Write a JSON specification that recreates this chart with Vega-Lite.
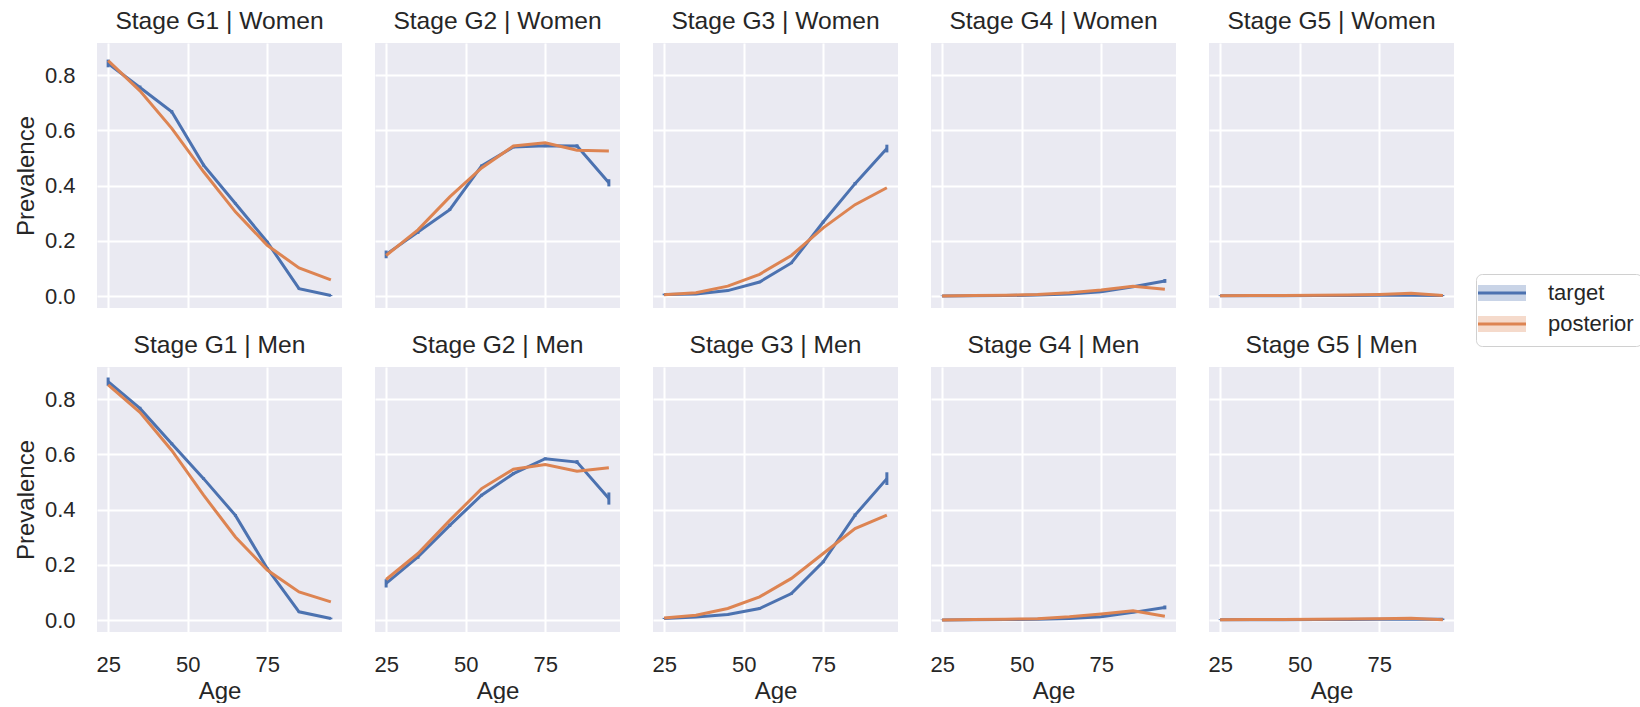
{
  "$schema": "https://vega.github.io/schema/vega-lite/v6.json",
  "padding": {"left": 14, "top": 9, "right": 0, "bottom": 0},
  "background": "white",
  "data": {"values": [
    {"stage":"G1","sex":"Women","age":25,"target":0.842,"posterior":0.852,"lo":0.828,"hi":0.856},
    {"stage":"G1","sex":"Women","age":35,"target":0.755,"posterior":0.743,"lo":0.748,"hi":0.762},
    {"stage":"G1","sex":"Women","age":45,"target":0.667,"posterior":0.607,"lo":0.661,"hi":0.673},
    {"stage":"G1","sex":"Women","age":55,"target":0.474,"posterior":0.450,"lo":0.469,"hi":0.479},
    {"stage":"G1","sex":"Women","age":65,"target":0.335,"posterior":0.305,"lo":0.331,"hi":0.339},
    {"stage":"G1","sex":"Women","age":75,"target":0.196,"posterior":0.184,"lo":0.192,"hi":0.200},
    {"stage":"G1","sex":"Women","age":85,"target":0.027,"posterior":0.102,"lo":0.024,"hi":0.030},
    {"stage":"G1","sex":"Women","age":95,"target":0.002,"posterior":0.059,"lo":0.000,"hi":0.004},
    {"stage":"G2","sex":"Women","age":25,"target":0.151,"posterior":0.147,"lo":0.137,"hi":0.165},
    {"stage":"G2","sex":"Women","age":35,"target":0.232,"posterior":0.240,"lo":0.225,"hi":0.239},
    {"stage":"G2","sex":"Women","age":45,"target":0.313,"posterior":0.359,"lo":0.308,"hi":0.318},
    {"stage":"G2","sex":"Women","age":55,"target":0.471,"posterior":0.464,"lo":0.466,"hi":0.476},
    {"stage":"G2","sex":"Women","age":65,"target":0.540,"posterior":0.543,"lo":0.535,"hi":0.545},
    {"stage":"G2","sex":"Women","age":75,"target":0.544,"posterior":0.555,"lo":0.539,"hi":0.549},
    {"stage":"G2","sex":"Women","age":85,"target":0.543,"posterior":0.528,"lo":0.537,"hi":0.549},
    {"stage":"G2","sex":"Women","age":95,"target":0.410,"posterior":0.525,"lo":0.397,"hi":0.423},
    {"stage":"G3","sex":"Women","age":25,"target":0.006,"posterior":0.005,"lo":0.003,"hi":0.009},
    {"stage":"G3","sex":"Women","age":35,"target":0.008,"posterior":0.012,"lo":0.005,"hi":0.011},
    {"stage":"G3","sex":"Women","age":45,"target":0.020,"posterior":0.036,"lo":0.017,"hi":0.023},
    {"stage":"G3","sex":"Women","age":55,"target":0.051,"posterior":0.079,"lo":0.047,"hi":0.055},
    {"stage":"G3","sex":"Women","age":65,"target":0.120,"posterior":0.147,"lo":0.116,"hi":0.124},
    {"stage":"G3","sex":"Women","age":75,"target":0.268,"posterior":0.247,"lo":0.263,"hi":0.273},
    {"stage":"G3","sex":"Women","age":85,"target":0.407,"posterior":0.331,"lo":0.401,"hi":0.413},
    {"stage":"G3","sex":"Women","age":95,"target":0.534,"posterior":0.392,"lo":0.520,"hi":0.548},
    {"stage":"G4","sex":"Women","age":25,"target":0.000,"posterior":0.000,"lo":0.000,"hi":0.002},
    {"stage":"G4","sex":"Women","age":35,"target":0.001,"posterior":0.002,"lo":0.000,"hi":0.002},
    {"stage":"G4","sex":"Women","age":45,"target":0.002,"posterior":0.003,"lo":0.001,"hi":0.003},
    {"stage":"G4","sex":"Women","age":55,"target":0.004,"posterior":0.006,"lo":0.003,"hi":0.005},
    {"stage":"G4","sex":"Women","age":65,"target":0.008,"posterior":0.012,"lo":0.006,"hi":0.010},
    {"stage":"G4","sex":"Women","age":75,"target":0.016,"posterior":0.022,"lo":0.014,"hi":0.018},
    {"stage":"G4","sex":"Women","age":85,"target":0.034,"posterior":0.036,"lo":0.031,"hi":0.037},
    {"stage":"G4","sex":"Women","age":95,"target":0.055,"posterior":0.025,"lo":0.048,"hi":0.062},
    {"stage":"G5","sex":"Women","age":25,"target":0.001,"posterior":0.001,"lo":0.000,"hi":0.003},
    {"stage":"G5","sex":"Women","age":35,"target":0.001,"posterior":0.002,"lo":0.000,"hi":0.003},
    {"stage":"G5","sex":"Women","age":45,"target":0.001,"posterior":0.002,"lo":0.000,"hi":0.003},
    {"stage":"G5","sex":"Women","age":55,"target":0.002,"posterior":0.003,"lo":0.000,"hi":0.004},
    {"stage":"G5","sex":"Women","age":65,"target":0.002,"posterior":0.004,"lo":0.000,"hi":0.004},
    {"stage":"G5","sex":"Women","age":75,"target":0.003,"posterior":0.006,"lo":0.001,"hi":0.005},
    {"stage":"G5","sex":"Women","age":85,"target":0.003,"posterior":0.010,"lo":0.001,"hi":0.005},
    {"stage":"G5","sex":"Women","age":95,"target":0.002,"posterior":0.002,"lo":0.000,"hi":0.004},
    {"stage":"G1","sex":"Men","age":25,"target":0.863,"posterior":0.851,"lo":0.848,"hi":0.878},
    {"stage":"G1","sex":"Men","age":35,"target":0.766,"posterior":0.752,"lo":0.760,"hi":0.772},
    {"stage":"G1","sex":"Men","age":45,"target":0.638,"posterior":0.614,"lo":0.633,"hi":0.643},
    {"stage":"G1","sex":"Men","age":55,"target":0.512,"posterior":0.452,"lo":0.507,"hi":0.517},
    {"stage":"G1","sex":"Men","age":65,"target":0.379,"posterior":0.301,"lo":0.374,"hi":0.384},
    {"stage":"G1","sex":"Men","age":75,"target":0.187,"posterior":0.181,"lo":0.183,"hi":0.191},
    {"stage":"G1","sex":"Men","age":85,"target":0.030,"posterior":0.102,"lo":0.027,"hi":0.033},
    {"stage":"G1","sex":"Men","age":95,"target":0.006,"posterior":0.066,"lo":0.003,"hi":0.009},
    {"stage":"G2","sex":"Men","age":25,"target":0.133,"posterior":0.147,"lo":0.118,"hi":0.148},
    {"stage":"G2","sex":"Men","age":35,"target":0.229,"posterior":0.241,"lo":0.222,"hi":0.236},
    {"stage":"G2","sex":"Men","age":45,"target":0.343,"posterior":0.361,"lo":0.337,"hi":0.349},
    {"stage":"G2","sex":"Men","age":55,"target":0.452,"posterior":0.476,"lo":0.447,"hi":0.457},
    {"stage":"G2","sex":"Men","age":65,"target":0.530,"posterior":0.546,"lo":0.525,"hi":0.535},
    {"stage":"G2","sex":"Men","age":75,"target":0.584,"posterior":0.563,"lo":0.579,"hi":0.589},
    {"stage":"G2","sex":"Men","age":85,"target":0.572,"posterior":0.539,"lo":0.565,"hi":0.579},
    {"stage":"G2","sex":"Men","age":95,"target":0.440,"posterior":0.551,"lo":0.418,"hi":0.462},
    {"stage":"G3","sex":"Men","age":25,"target":0.006,"posterior":0.008,"lo":0.004,"hi":0.008},
    {"stage":"G3","sex":"Men","age":35,"target":0.011,"posterior":0.018,"lo":0.008,"hi":0.014},
    {"stage":"G3","sex":"Men","age":45,"target":0.020,"posterior":0.042,"lo":0.017,"hi":0.023},
    {"stage":"G3","sex":"Men","age":55,"target":0.042,"posterior":0.084,"lo":0.038,"hi":0.046},
    {"stage":"G3","sex":"Men","age":65,"target":0.096,"posterior":0.151,"lo":0.092,"hi":0.100},
    {"stage":"G3","sex":"Men","age":75,"target":0.211,"posterior":0.241,"lo":0.206,"hi":0.216},
    {"stage":"G3","sex":"Men","age":85,"target":0.380,"posterior":0.331,"lo":0.374,"hi":0.386},
    {"stage":"G3","sex":"Men","age":95,"target":0.512,"posterior":0.380,"lo":0.489,"hi":0.535},
    {"stage":"G4","sex":"Men","age":25,"target":0.000,"posterior":0.000,"lo":0.000,"hi":0.002},
    {"stage":"G4","sex":"Men","age":35,"target":0.001,"posterior":0.002,"lo":0.000,"hi":0.002},
    {"stage":"G4","sex":"Men","age":45,"target":0.002,"posterior":0.003,"lo":0.001,"hi":0.003},
    {"stage":"G4","sex":"Men","age":55,"target":0.003,"posterior":0.005,"lo":0.002,"hi":0.004},
    {"stage":"G4","sex":"Men","age":65,"target":0.006,"posterior":0.012,"lo":0.004,"hi":0.008},
    {"stage":"G4","sex":"Men","age":75,"target":0.012,"posterior":0.022,"lo":0.010,"hi":0.014},
    {"stage":"G4","sex":"Men","age":85,"target":0.028,"posterior":0.034,"lo":0.025,"hi":0.031},
    {"stage":"G4","sex":"Men","age":95,"target":0.046,"posterior":0.014,"lo":0.039,"hi":0.053},
    {"stage":"G5","sex":"Men","age":25,"target":0.001,"posterior":0.001,"lo":0.000,"hi":0.003},
    {"stage":"G5","sex":"Men","age":35,"target":0.001,"posterior":0.002,"lo":0.000,"hi":0.003},
    {"stage":"G5","sex":"Men","age":45,"target":0.001,"posterior":0.002,"lo":0.000,"hi":0.003},
    {"stage":"G5","sex":"Men","age":55,"target":0.002,"posterior":0.003,"lo":0.000,"hi":0.004},
    {"stage":"G5","sex":"Men","age":65,"target":0.002,"posterior":0.004,"lo":0.000,"hi":0.004},
    {"stage":"G5","sex":"Men","age":75,"target":0.003,"posterior":0.005,"lo":0.001,"hi":0.005},
    {"stage":"G5","sex":"Men","age":85,"target":0.003,"posterior":0.007,"lo":0.001,"hi":0.005},
    {"stage":"G5","sex":"Men","age":95,"target":0.003,"posterior":0.001,"lo":0.000,"hi":0.006}
  ]},
  "transform": [
    {"calculate": "'Stage ' + datum.stage + ' | ' + datum.sex", "as": "panel"},
    {"fold": ["target", "posterior"], "as": ["series", "prevalence"]}
  ],
  "facet": {
    "field": "panel",
    "type": "nominal",
    "sort": ["Stage G1 | Women","Stage G2 | Women","Stage G3 | Women","Stage G4 | Women","Stage G5 | Women","Stage G1 | Men","Stage G2 | Men","Stage G3 | Men","Stage G4 | Men","Stage G5 | Men"],
    "header": {"title": null, "labelFontSize": 24.6, "labelColor": "#262626", "labelFont": "Liberation Sans", "labelPadding": 8}
  },
  "columns": 5,
  "spacing": {"column": 33, "row": 25},
  "spec": {
    "width": 245,
    "height": 265,
    "layer": [
      {
        "transform": [{"filter": "datum.series == 'target'"}],
        "mark": {"type": "rule", "strokeWidth": 3, "color": "#4C72B0"},
        "encoding": {
          "x": {"field": "age", "type": "quantitative", "title": "Age", "scale": {"domain": [21.5, 98.5], "nice": false, "zero": false}},
          "y": {"field": "lo", "type": "quantitative", "title": "Prevalence", "scale": {"domain": [-0.043, 0.916], "nice": false, "zero": false}},
          "y2": {"field": "hi"}
        }
      },
      {
        "mark": {"type": "line", "strokeWidth": 3},
        "encoding": {
          "x": {"field": "age", "type": "quantitative", "title": "Age", "axis": {"values": [25, 50, 75]}},
          "y": {"field": "prevalence", "type": "quantitative", "title": "Prevalence", "axis": {"values": [0, 0.2, 0.4, 0.6, 0.8], "format": ".1f"}},
          "color": {
            "field": "series", "type": "nominal",
            "scale": {"domain": ["target", "posterior"], "range": ["#4C72B0", "#DD8452"]},
            "legend": {
              "title": null, "orient": "none", "legendX": 1379, "legendY": 231,
              "symbolType": "M-3.4,0H6.2V-1.6H-3.4V1.6H6.2V0Z", "symbolSize": 100, "symbolStrokeWidth": 3,
              "symbolDash": [48, 600],
              "labelFontSize": 22, "labelColor": "#262626", "labelFont": "Liberation Sans",
              "padding": 8, "strokeColor": "#d0d0d0", "fillColor": "#ffffff", "cornerRadius": 6,
              "rowPadding": 3, "labelOffset": 42,
              "encode": {"symbols": {"update": {"fill": {"scale": "color", "field": "value"}, "fillOpacity": {"value": 0.3}}}}
            }
          }
        }
      }
    ]
  },
  "config": {
    "font": "Liberation Sans",
    "view": {"fill": "#EAEAF2", "stroke": null},
    "axis": {
      "domain": false, "ticks": false, "tickSize": 0,
      "gridColor": "#ffffff", "gridWidth": 2,
      "labelFontSize": 22, "titleFontSize": 24, "titleFontWeight": "normal",
      "labelColor": "#262626", "titleColor": "#262626"
    },
    "axisX": {"labelPadding": 22, "titlePadding": 4},
    "axisY": {"labelPadding": 22, "titlePadding": 6}
  }
}
